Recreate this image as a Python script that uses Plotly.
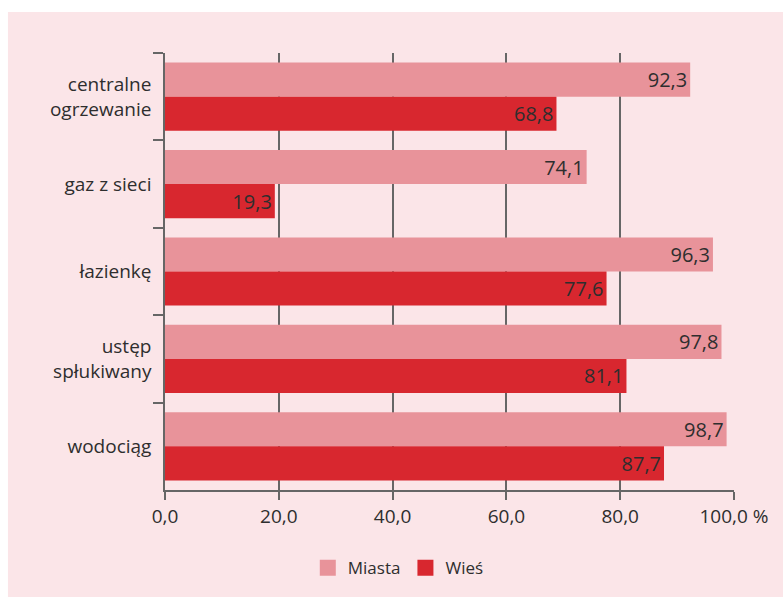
import plotly.graph_objects as go

# Housing amenities: share of dwellings equipped (%), towns vs. countryside
categories = ["centralne<br>ogrzewanie", "gaz z sieci", "łazienkę", "ustęp<br>spłukiwany", "wodociąg"]
miasta = [92.3, 74.1, 96.3, 97.8, 98.7]
wies = [68.8, 19.3, 77.6, 81.1, 87.7]
x_tickvals = [0, 20, 40, 60, 80, 100]
x_ticktext = ["0,0", "20,0", "40,0", "60,0", "80,0", "100,0 %"]

BG = "#fbe5e8"
C_MIASTA = "#e8939a"
C_WIES = "#d8272f"
TEXT = "#2e2e2e"
AXIS = "#666666"
FONT = "Open Sans, Noto Sans, sans-serif"


def fmt(v):
    return f"{v:.1f}".replace(".", ",")


fig = go.Figure()
for name, vals, color in [("Miasta", miasta, C_MIASTA), ("Wieś", wies, C_WIES)]:
    fig.add_trace(go.Bar(
        name=name, y=categories, x=vals, orientation="h",
        marker=dict(color=color, line=dict(width=0)),
        text=[fmt(v) for v in vals], textposition="inside", insidetextanchor="end",
        textfont=dict(color=TEXT, size=20, family=FONT), cliponaxis=False,
        showlegend=False,
    ))
    # legend entry drawn as a larger square swatch
    fig.add_trace(go.Scatter(
        name=name, x=[None], y=[None], mode="markers",
        marker=dict(symbol="square", size=16, color=color),
        showlegend=True, hoverinfo="skip",
    ))

# pink panel behind the whole chart
fig.add_shape(type="rect", xref="paper", yref="paper",
              x0=-0.276, x1=1.2, y0=-0.3, y1=1.0936,
              fillcolor=BG, line=dict(width=0), layer="below")

fig.update_layout(
    width=783, height=597,
    margin=dict(l=165, r=49, t=53, b=106),
    paper_bgcolor="white", plot_bgcolor="rgba(0,0,0,0)",
    barmode="group", bargap=0.22, bargroupgap=0,
    font=dict(family=FONT, color=TEXT, size=17),
    legend=dict(orientation="h", x=0.41, xanchor="center", y=-0.176, yanchor="middle",
                bgcolor="rgba(0,0,0,0)", font=dict(size=17, color=TEXT, family=FONT),
                itemwidth=30, traceorder="normal"),
    xaxis=dict(
        range=[0, 100], tickvals=x_tickvals, ticktext=x_ticktext,
        showgrid=True, gridcolor=AXIS, gridwidth=1.5,
        showline=True, linecolor=AXIS, linewidth=1.5,
        ticks="outside", ticklen=8, tickcolor=AXIS, tickwidth=1.5,
        tickfont=dict(size=19, color=TEXT, family=FONT),
        zeroline=False, fixedrange=True,
    ),
    yaxis=dict(
        categoryorder="array", categoryarray=categories, autorange="reversed",
        tickson="boundaries", ticks="outside", ticklen=10, tickcolor=AXIS, tickwidth=1.5,
        showline=True, linecolor=AXIS, linewidth=1.5, showgrid=False,
        tickfont=dict(size=19, color=TEXT, family=FONT), ticklabelstandoff=8,
        fixedrange=True,
    ),
)

fig.write_html("out.html")
